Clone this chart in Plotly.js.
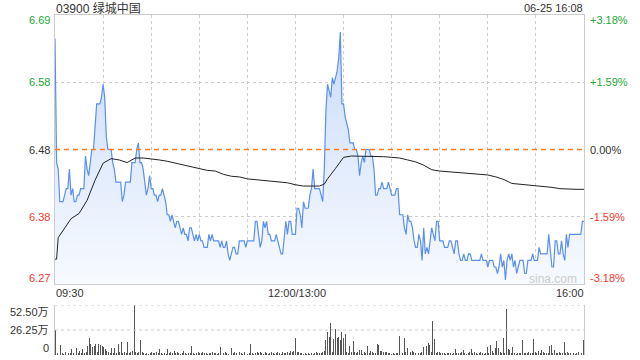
<!DOCTYPE html>
<html>
<head>
<meta charset="utf-8">
<script src="https://cdn.plot.ly/plotly-3.0.1.min.js"></script>
<style>html,body{margin:0;padding:0;background:#fff;}#chart{width:640px;height:360px;}</style>
</head>
<body>
<div id="chart"></div>
<script>
// ---- data ----
const stockTitle = "03900 绿城中国";
const stampText = "06-25 16:08";
const prevClose = 6.48;
const pctLevels = [3.18, 1.59, 0, -1.59, -3.18];
const timeLabels = ["09:30", "12:00/13:00", "16:00"];
const volLabels = ["52.50万", "26.25万", "0"];
const volMax = 52.5;

// one price per trading minute (0 = 09:30, 150 = 12:00/13:00, 330 = 16:00)
const price = [
6.65,6.46,6.45,6.40,6.40,6.40,6.41,6.42,6.42,6.45,
6.41,6.42,6.40,6.40,6.41,6.41,6.42,6.42,6.42,6.47,
6.45,6.44,6.46,6.48,6.48,6.52,6.55,6.55,6.55,6.56,
6.58,6.56,6.50,6.48,6.48,6.48,6.46,6.45,6.43,6.43,
6.43,6.43,6.40,6.41,6.43,6.43,6.43,6.43,6.46,6.46,
6.46,6.48,6.49,6.46,6.46,6.45,6.43,6.41,6.42,6.44,
6.42,6.42,6.41,6.41,6.40,6.41,6.41,6.42,6.41,6.40,
6.38,6.38,6.37,6.38,6.37,6.36,6.37,6.37,6.36,6.35,
6.36,6.35,6.35,6.34,6.36,6.36,6.35,6.34,6.35,6.34,
6.35,6.34,6.34,6.33,6.33,6.33,6.35,6.34,6.35,6.34,
6.34,6.34,6.34,6.33,6.34,6.33,6.33,6.34,6.32,6.31,
6.32,6.33,6.33,6.32,6.32,6.34,6.34,6.34,6.34,6.33,
6.34,6.34,6.34,6.34,6.34,6.37,6.37,6.35,6.33,6.34,
6.37,6.36,6.37,6.35,6.35,6.34,6.34,6.34,6.35,6.34,
6.33,6.32,6.32,6.35,6.37,6.35,6.37,6.37,6.35,6.35,
6.35,6.39,6.39,6.38,6.36,6.40,6.39,6.39,6.39,6.41,
6.42,6.45,6.42,6.42,6.42,6.42,6.41,6.40,6.45,6.54,
6.58,6.57,6.56,6.59,6.58,6.59,6.60,6.62,6.66,6.55,
6.55,6.53,6.52,6.51,6.49,6.49,6.49,6.48,6.48,6.47,
6.44,6.46,6.47,6.46,6.48,6.48,6.48,6.47,6.47,6.45,
6.41,6.41,6.42,6.42,6.43,6.42,6.42,6.42,6.43,6.42,
6.41,6.41,6.41,6.42,6.42,6.38,6.38,6.38,6.36,6.35,
6.38,6.37,6.37,6.36,6.34,6.33,6.33,6.35,6.34,6.31,
6.36,6.32,6.33,6.32,6.34,6.36,6.35,6.34,6.37,6.37,
6.34,6.34,6.34,6.33,6.33,6.33,6.34,6.34,6.33,6.32,
6.34,6.34,6.32,6.31,6.31,6.32,6.31,6.31,6.32,6.32,
6.31,6.31,6.31,6.31,6.31,6.31,6.32,6.31,6.31,6.31,
6.30,6.31,6.31,6.31,6.30,6.30,6.29,6.30,6.32,6.30,
6.31,6.28,6.31,6.32,6.31,6.32,6.30,6.31,6.29,6.30,
6.31,6.31,6.31,6.29,6.29,6.31,6.31,6.31,6.32,6.31,
6.31,6.31,6.33,6.32,6.32,6.32,6.32,6.32,6.35,6.32,
6.30,6.30,6.34,6.34,6.32,6.32,6.34,6.32,6.31,6.35,
6.33,6.35,6.35,6.35,6.35,6.35,6.35,6.35,6.35,6.37,
6.37
];

// average price line, sampled minutes
const avgMinute = [0,1,2,5,10,15,20,25,30,35,40,45,50,55,60,65,70,75,80,85,90,95,100,105,110,115,120,125,130,135,140,145,150,155,160,165,168,170,175,180,185,190,195,200,205,210,215,220,225,230,235,240,245,250,255,260,265,270,275,280,285,290,295,300,305,310,315,320,325,330];
const avgPrice = [6.312,6.312,6.345,6.356,6.374,6.382,6.402,6.433,6.459,6.466,6.464,6.460,6.467,6.467,6.466,6.464,6.462,6.459,6.457,6.453,6.450,6.448,6.447,6.442,6.439,6.438,6.435,6.434,6.433,6.431,6.430,6.429,6.426,6.424,6.424,6.424,6.427,6.435,6.451,6.468,6.470,6.470,6.470,6.470,6.469,6.468,6.467,6.464,6.461,6.456,6.449,6.447,6.446,6.445,6.444,6.443,6.443,6.441,6.438,6.434,6.428,6.427,6.425,6.424,6.423,6.422,6.420,6.419,6.419,6.419];

// volume per minute (万)
const volume = [
26,2,2,10,2,1.5,3,4,2,2,
6,2,3,7,2,4,2,6,2,3,
9,17.5,12,8,9,12,3,12,10,9,
8,6,4,3,2,7,2,7,2,12,
3,14,2,3,2,14,2,3,4,52.5,
3,2,3,16,3,2,1.5,2,1.5,2,
3,2,2,3,2,6,2,1.5,2,1.5,
6,2,3,2,4,2,3,2,1.5,2,
4,2,1.5,2,2,9.5,2,1.5,2,3,
2,2,3,2,2,1.5,2,2,3,2,
2,1.5,2,8,5,2,3,2,1.5,6,
7,2,3,2,1.5,3,2,1.5,3,2,
1.5,2,11.5,2,1.5,2,3,2,3,2,
1.5,3,2,1.5,2,3,2,1.5,2,3,
2,1.5,3,2,2,3,2,4,3,4,
17.5,3,3,2,2,1.5,2,1.5,2,1.5,
2,1.5,2,3,2,2,2.5,3.5,4.5,16,
24.5,19,34,3.5,16.5,27,17.5,19,16,24.5,
17.5,22,3.5,2.5,9,3,15,3.5,2.5,3.5,
5,5,1.5,3.5,2,9,2.5,4.5,3.5,2,
2,11.5,10.5,4.5,4,3,3.5,3,2.5,2,
1.5,2,1.5,2.5,2.5,20,2.5,2,17.5,3,
7,6,3,4,3.5,2.5,16,2.5,2,3,
8,25.5,9.5,13,10.5,3,35.7,17,2.5,3,
3.5,2,2.5,2,1.5,2,2.5,2,1.5,2,
6,2,2.5,2,3,5,2,1.5,2,3,
6,2,3.5,2,1.5,2,3.5,2,1.5,2.5,
8,2,10.5,4.5,2,7,15,7,3.5,2,
17.5,2,48,6,5,2,8.5,2,1.5,2,
2.5,2,16,2,2.5,2,3.5,2,2,17,
3.5,2,4.5,2,5,3.5,2.5,2,2.5,9,
10.5,2,5,2,2.5,3.5,2,2.5,14,2,
3.5,2.5,2,1.5,2,1.5,2,3.5,2.5,2,
15.7
];

// ---- derived ----
const minutes = price.map((_, i) => i);
const lastMinute = minutes.length - 1;
const yMax = prevClose * (1 + pctLevels[0] / 100);
const yMin = prevClose * (1 + pctLevels[4] / 100);
const levelPrices = pctLevels.map(p => prevClose * (1 + p / 100));
const gridMinutes = [];
for (let m = 30; m < lastMinute; m += 30) gridMinutes.push(m);

// ---- geometry (pixels) ----
const W = 640, H = 360, ML = 55, MR = 56, MT = 15, MB = 5;
const PW = W - ML - MR, PH = H - MT - MB;
const px = x => (x - ML) / PW;
const py = y => (H - MB - y) / PH;
const mainBottom = 284, volTop = 305;

const FONT = "Liberation Sans, Arial, 'Noto Sans CJK SC', sans-serif";
const GREEN = "#22a834", RED = "#f23a2f", DARK = "#333333";

const traces = [
  {
    x: minutes, y: price, type: "scatter", mode: "lines",
    line: {color: "#5a8ff0", width: 1.2},
    fill: "tozeroy",
    fillgradient: {type: "vertical", start: yMin, stop: yMax,
      colorscale: [[0, "rgba(247,250,255,1)"], [1, "rgba(198,218,249,1)"]]},
    xaxis: "x", yaxis: "y", hoverinfo: "skip"
  },
  {
    x: [0, lastMinute], y: [prevClose, prevClose], type: "scatter", mode: "lines",
    line: {color: "#ff7a1a", width: 1.4, dash: "5px,4px"},
    xaxis: "x", yaxis: "y", hoverinfo: "skip"
  },
  {
    x: avgMinute, y: avgPrice, type: "scatter", mode: "lines",
    line: {color: "#222222", width: 1},
    xaxis: "x", yaxis: "y", hoverinfo: "skip"
  },
  {
    x: minutes, y: volume, type: "bar",
    marker: {color: "#555555", line: {width: 0}},
    width: 0.6,
    xaxis: "x2", yaxis: "y2", hoverinfo: "skip"
  }
];

const ann = [];
function addText(text, x, y, xanchor, color, size) {
  ann.push({text: text, xref: "paper", yref: "paper", x: px(x), y: py(y),
    xanchor: xanchor, yanchor: "middle", showarrow: false,
    font: {family: FONT, size: size || 11, color: color}});
}
addText(stockTitle, 54, 8, "left", DARK, 12);
addText(stampText, 585, 8, "right", DARK, 11);
const labelY = [20, 82, 149.5, 217, 278];
const labelColor = [GREEN, GREEN, DARK, RED, RED];
pctLevels.forEach((p, i) => {
  addText(levelPrices[i].toFixed(2), 52, labelY[i], "right", labelColor[i]);
  const s = (p > 0 ? "+" : "") + p.toFixed(2) + "%";
  addText(s, 588, labelY[i], "left", labelColor[i]);
});
addText(timeLabels[0], 54, 293, "left", DARK);
addText(timeLabels[1], 296.5, 293, "center", DARK);
addText(timeLabels[2], 586, 293, "right", DARK);
[311.5, 330, 348].forEach((y, i) => addText(volLabels[i], 51, y, "right", DARK));
addText("sina.com", 553, 279, "center", "#cccccc", 12);

const shapes = [
  {type: "line", xref: "x2 domain", yref: "y2", x0: 0, x1: 1, y0: volMax / 2, y1: volMax / 2,
   line: {color: "#cccccc", width: 1, dash: "dot"}},
  {type: "line", xref: "x2 domain", yref: "y2", x0: 0, x1: 1, y0: volMax, y1: volMax,
   line: {color: "#cccccc", width: 1, dash: "dot"}}
];

const layout = {
  width: W, height: H,
  margin: {l: ML, r: MR, t: MT, b: MB},
  paper_bgcolor: "#ffffff", plot_bgcolor: "#ffffff",
  showlegend: false,
  font: {family: FONT, size: 11, color: DARK},
  xaxis: {domain: [0, 1], range: [0, lastMinute], anchor: "y",
    tickvals: gridMinutes, showticklabels: false, ticks: "",
    showgrid: true, gridcolor: "#cccccc", griddash: "dot", gridwidth: 1,
    showline: true, mirror: true, linecolor: "#cccccc", linewidth: 1, zeroline: false, fixedrange: true},
  yaxis: {domain: [py(mainBottom), 1], range: [yMin, yMax], anchor: "x",
    tickvals: [levelPrices[1], levelPrices[3]], showticklabels: false, ticks: "",
    showgrid: true, gridcolor: "#cccccc", griddash: "dot", gridwidth: 1,
    showline: true, mirror: true, linecolor: "#cccccc", linewidth: 1, zeroline: false, fixedrange: true},
  xaxis2: {domain: [0, 1], range: [-0.5, lastMinute + 0.5], anchor: "y2",
    showticklabels: false, ticks: "", showgrid: false, showline: false, zeroline: false, fixedrange: true},
  yaxis2: {domain: [0, py(volTop)], range: [0, volMax], anchor: "x2",
    showticklabels: false, ticks: "", showgrid: false,
    showline: true, mirror: true, linecolor: "#cccccc", linewidth: 1, zeroline: false, fixedrange: true},
  bargap: 0,
  annotations: ann,
  shapes: shapes
};

Plotly.newPlot("chart", traces, layout, {displayModeBar: false, staticPlot: true});
</script>
</body>
</html>
